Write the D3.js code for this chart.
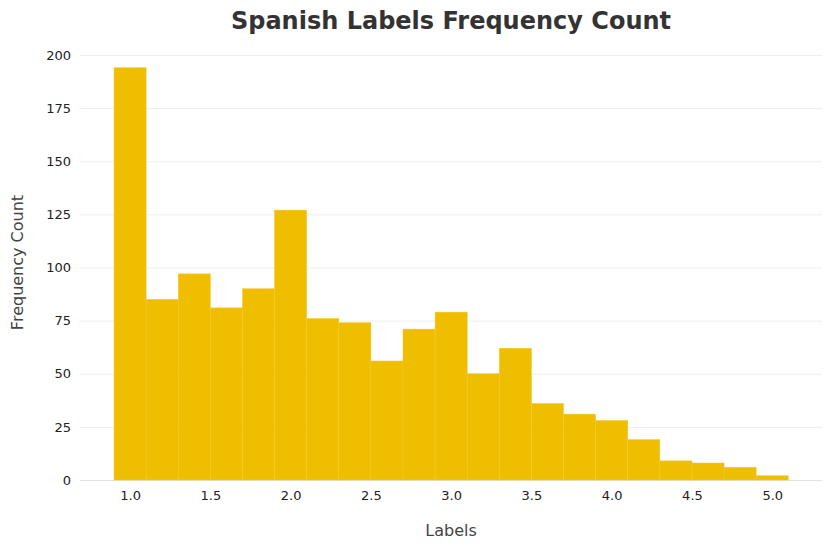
<!DOCTYPE html>
<html>
<head>
<meta charset="utf-8">
<script src="https://cdn.jsdelivr.net/npm/d3@7"></script>
<style>
  html, body { margin: 0; padding: 0; background: #fff; }
  svg { display: block; font-family: "DejaVu Sans", Verdana, sans-serif; }
</style>
</head>
<body>
<svg id="chart" width="831" height="549"></svg>
<script>
const binStarts = [0.9, 1.1, 1.3, 1.5, 1.7, 1.9, 2.1, 2.3, 2.5, 2.7, 2.9, 3.1, 3.3, 3.5, 3.7, 3.9, 4.1, 4.3, 4.5, 4.7, 4.9];
const binWidth = 0.2;
const counts = [194, 85, 97, 81, 90, 127, 76, 74, 56, 71, 79, 50, 62, 36, 31, 28, 19, 9, 8, 6, 2];
const xTicks = [1.0, 1.5, 2.0, 2.5, 3.0, 3.5, 4.0, 4.5, 5.0];
const yTicks = [0, 25, 50, 75, 100, 125, 150, 175, 200];
const titleText = "Spanish Labels Frequency Count";
const xLabel = "Labels";
const yLabel = "Frequency Count";

const svg = d3.select("#chart");
const plotLeft = 80, plotRight = 822, plotTop = 55, plotBottom = 480;

const x = d3.scaleLinear().domain([0.688, 5.31]).range([plotLeft, plotRight]);
const y = d3.scaleLinear().domain([0, 200]).range([plotBottom, plotTop]);

// gridlines
svg.append("g")
  .selectAll("line")
  .data(yTicks)
  .join("line")
  .attr("x1", plotLeft).attr("x2", plotRight)
  .attr("y1", d => y(d) + 0.5).attr("y2", d => y(d) + 0.5)
  .attr("stroke", d => d === 0 ? "#e2e2e2" : "#eeeeee")
  .attr("stroke-width", 1);

// bars
const data = binStarts.map((s, i) => ({ x0: s, x1: s + binWidth, v: counts[i] }));
svg.append("g")
  .selectAll("rect")
  .data(data)
  .join("rect")
  .attr("x", d => x(d.x0))
  .attr("width", d => x(d.x1) - x(d.x0))
  .attr("y", d => y(d.v))
  .attr("height", d => y(0) - y(d.v))
  .attr("fill", "#f0be00")
  .attr("stroke", "#f3c82a")
  .attr("stroke-width", 0.5);

// x axis
const xAxis = d3.axisBottom(x).tickValues(xTicks).tickFormat(d3.format(".1f")).tickSize(0).tickPadding(11);
const gx = svg.append("g").attr("transform", `translate(0,${plotBottom})`).call(xAxis);
gx.select(".domain").remove();
gx.selectAll("text").attr("font-size", 13).attr("fill", "#222").attr("font-family", "DejaVu Sans, sans-serif");

// y axis
const yAxis = d3.axisLeft(y).tickValues(yTicks).tickSize(0).tickPadding(9);
const gy = svg.append("g").attr("transform", `translate(${plotLeft},0)`).call(yAxis);
gy.select(".domain").remove();
gy.selectAll("text").attr("font-size", 13).attr("fill", "#222").attr("font-family", "DejaVu Sans, sans-serif");

// title
svg.append("text")
  .attr("x", (plotLeft + plotRight) / 2).attr("y", 29)
  .attr("text-anchor", "middle")
  .attr("font-size", 24).attr("font-weight", "bold")
  .attr("fill", "#333")
  .text(titleText);

svg.append("text")
  .attr("x", (plotLeft + plotRight) / 2).attr("y", 536)
  .attr("text-anchor", "middle")
  .attr("font-size", 16).attr("fill", "#444")
  .text(xLabel);

svg.append("text")
  .attr("transform", `translate(23,${(plotTop + plotBottom) / 2 - 5}) rotate(-90)`)
  .attr("text-anchor", "middle")
  .attr("font-size", 16).attr("fill", "#444")
  .text(yLabel);
</script>
</body>
</html>
